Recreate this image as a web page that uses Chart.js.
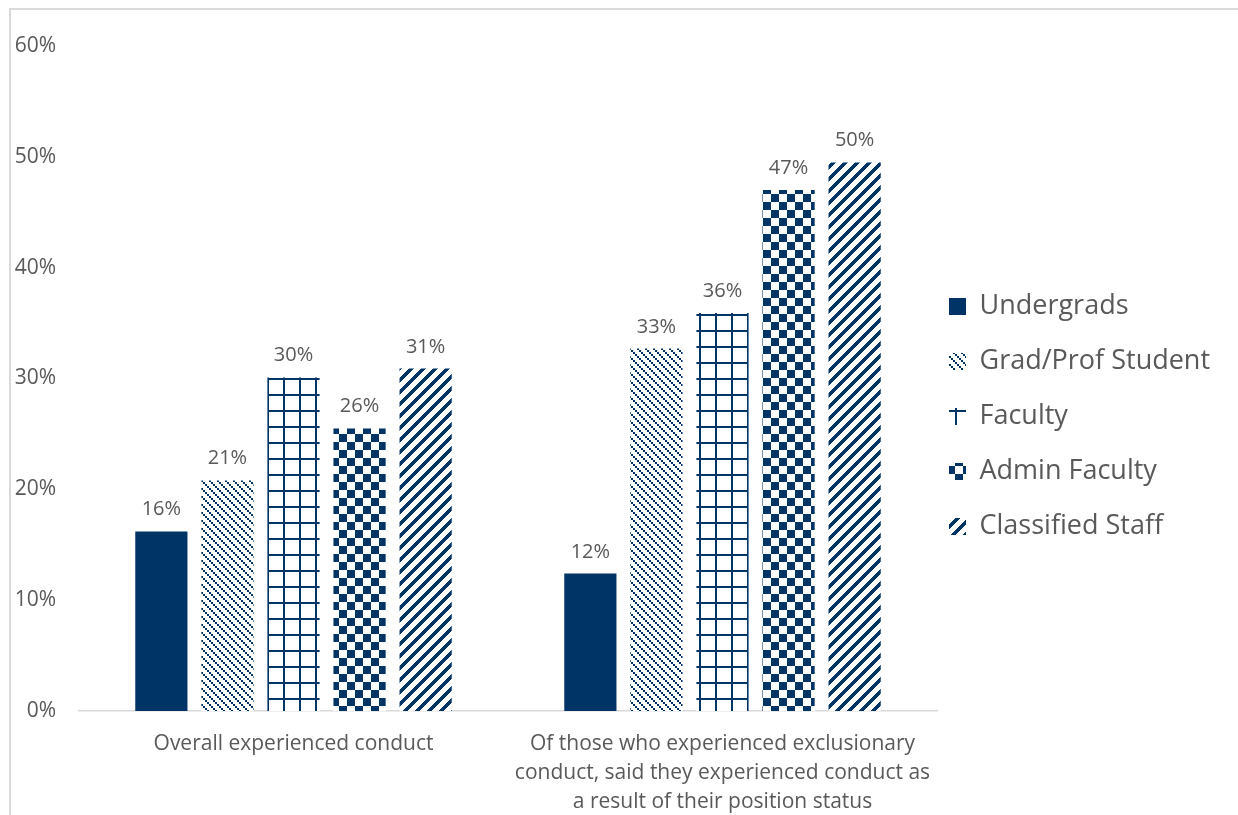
<!DOCTYPE html>
<html>
<head>
<meta charset="utf-8">
<script src="https://cdn.jsdelivr.net/npm/chart.js@4/dist/chart.umd.min.js"></script>
<style>
  body { margin: 0; background: #fff; }
  #wrap { position: absolute; left: 9px; top: 8px; width: 1229px; height: 807px; border-left: 2px solid #d9d9d9; border-top: 2px solid #d9d9d9; }
  canvas { display: block; }
</style>
</head>
<body>
<div id="wrap"><canvas id="chart" width="1227" height="805"></canvas></div>
<script>
const categories = [
  'Overall experienced conduct',
  ['Of those who experienced exclusionary', 'conduct, said they experienced conduct as', 'a result of their position status']
];
const seriesNames = ['Undergrads', 'Grad/Prof Student', 'Faculty', 'Admin Faculty', 'Classified Staff'];
const undergrads = [16.2, 12.4];
const gradProf = [20.8, 32.7];
const faculty = [30.1, 35.9];
const adminFaculty = [25.5, 47.0];
const classifiedStaff = [30.9, 49.5];
const yTicks = [0, 10, 20, 30, 40, 50, 60];

const NAVY = '#003366';
const TEXT = '#595959';
const FONT = "'Open Sans', sans-serif";

// pixel patterns, tiled from canvas origin
function makePattern(size, test) {
  const c = document.createElement('canvas');
  c.width = size; c.height = size;
  const g = c.getContext('2d');
  g.fillStyle = '#fff';
  g.fillRect(0, 0, size, size);
  g.fillStyle = NAVY;
  for (let y = 0; y < size; y++) {
    for (let x = 0; x < size; x++) {
      if (test(x, y)) g.fillRect(x, y, 1, 1);
    }
  }
  return document.getElementById('chart').getContext('2d').createPattern(c, 'repeat');
}

const fills = [
  NAVY,
  makePattern(8, (x, y) => ((Math.floor(x / 2) - Math.floor(y / 2)) % 4 + 4) % 4 === 0),
  makePattern(16, (x, y) => x < 2 || y < 2),
  makePattern(16, (x, y) => (Math.floor(x / 8) + Math.floor(y / 8)) % 2 === 0),
  makePattern(12, (x, y) => (x + y) % 12 < 5)
];

const valueLabels = {
  id: 'valueLabels',
  afterDatasetsDraw(chart) {
    const ctx = chart.ctx;
    ctx.save();
    ctx.fillStyle = TEXT;
    ctx.font = "20px " + FONT;
    ctx.textAlign = 'center';
    ctx.textBaseline = 'alphabetic';
    chart.data.datasets.forEach((ds, i) => {
      chart.getDatasetMeta(i).data.forEach((bar, j) => {
        ctx.fillText(Math.round(ds.data[j]) + '%', bar.x, bar.y - 16);
      });
    });
    ctx.restore();
  }
};

// nudge the legend left and up, like the reference
const legendShift = {
  id: 'legendShift',
  afterLayout(chart) {
    const lg = chart.legend;
    lg.left -= 16;
    lg.top -= 14;
    lg.bottom -= 14;
  }
};

const seriesData = [undergrads, gradProf, faculty, adminFaculty, classifiedStaff];

const chart = new Chart(document.getElementById('chart'), {
  type: 'bar',
  data: {
    labels: categories,
    datasets: seriesNames.map((name, i) => ({
      label: name,
      data: seriesData[i],
      backgroundColor: fills[i],
      borderWidth: 0,
      categoryPercentage: 0.77,
      barPercentage: 0.79
    }))
  },
  options: {
    responsive: false,
    animation: false,
    layout: { padding: { top: 36, right: 10 } },
    plugins: {
      tooltip: { enabled: false },
      legend: {
        position: 'right',
        labels: {
          color: TEXT,
          font: { family: FONT, size: 27 },
          boxWidth: 17,
          boxHeight: 17,
          padding: 28
        }
      }
    },
    scales: {
      x: {
        grid: { display: false, drawTicks: false },
        border: { display: true, color: '#d9d9d9', width: 1.5 },
        ticks: { color: TEXT, font: { family: FONT, size: 21, lineHeight: 1.4 }, padding: 18, maxRotation: 0 },
        afterFit(s) { s.height = 104; }
      },
      y: {
        min: 0,
        max: 60,
        afterBuildTicks(s) { s.ticks = yTicks.map(v => ({ value: v })); },
        grid: { display: false, drawTicks: false },
        border: { display: false },
        ticks: { color: TEXT, font: { family: FONT, size: 21 }, padding: 23, callback: v => v + '%' },
        afterFit(s) { s.width = 68; }
      }
    }
  },
  plugins: [valueLabels, legendShift]
});

// pin the plot's right edge where the reference has it
const wantRight = 926;
chart.options.layout.padding.right += chart.chartArea.right - wantRight;
chart.update();
</script>
</body>
</html>
